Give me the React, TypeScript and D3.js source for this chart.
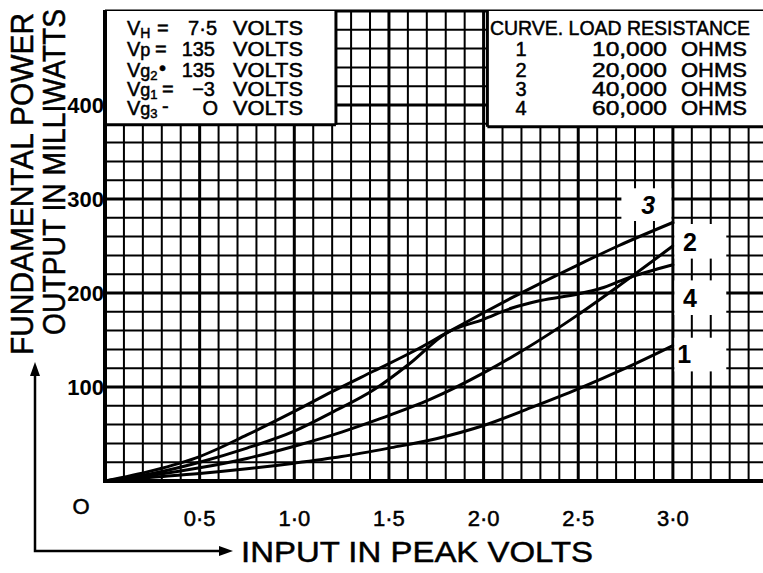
import React from "react";
import * as d3 from "d3";

// ---- data ----
const volts1 = [0, 0.25, 0.5, 0.75, 1.0, 1.25, 1.5, 1.75, 2.0, 2.25, 2.5, 2.75, 3.0];
const power1 = [0, 4, 8, 13, 19, 26, 35, 45, 59, 78, 98, 120, 144];

const volts2 = [0, 0.25, 0.5, 0.75, 1.0, 1.25, 1.45, 1.72, 2.0, 2.2, 2.5, 2.71, 3.0];
const power2 = [0, 6, 14, 24, 37, 52, 66, 87, 115, 138, 177, 207, 250];

const volts3 = [0, 0.25, 0.5, 0.75, 1.0, 1.2, 1.42, 1.63, 1.8, 2.0, 2.15, 2.5, 2.71, 3.0];
const power3 = [0, 11, 26, 49, 74, 95, 117, 138, 157, 179, 195, 230, 250, 275];

const volts4 = [0, 0.25, 0.5, 0.75, 1.0, 1.2, 1.42, 1.61, 1.8, 2.0, 2.15, 2.3, 2.5, 2.62, 2.75, 3.0];
const power4 = [0, 8, 20, 35, 53, 73, 97, 125, 157, 172, 184, 192, 199, 205, 215, 230];

const xTickValues = [0.5, 1.0, 1.5, 2.0, 2.5, 3.0];
const xTickLabels = ["0·5", "1·0", "1·5", "2·0", "2·5", "3·0"];
const yTickValues = [100, 200, 300, 400];
const yTickLabels = ["100", "200", "300", "400"];

const curveNumbers = ["1", "2", "3", "4"];
const loadResistances = ["10,000", "20,000", "40,000", "60,000"];

const xMaxV = 3.476;
const yMaxMW = 500;

const W = 763;
const H = 573;
const FONT = "'Liberation Sans', Arial, sans-serif";

export default function App() {
  const x = d3.scaleLinear().domain([0, xMaxV]).range([105, 763]);
  const y = d3.scaleLinear().domain([0, yMaxMW]).range([481, 11]);

  const vLines = d3.range(1, 35).map((i) => i / 10);
  const hLines = d3.range(1, 25).map((i) => i * 20);

  const line = d3
    .line<[number, number]>()
    .x((d) => x(d[0]))
    .y((d) => y(d[1]))
    .curve(d3.curveMonotoneX);

  const series = [
    { v: volts1, p: power1 },
    { v: volts2, p: power2 },
    { v: volts3, p: power3 },
    { v: volts4, p: power4 },
  ];

  // label boxes in data units: [v0, v1, p0, p1]
  const labelBoxes = [
    { t: "3", b: [2.72, 3.0, 275, 313], tx: 2.87, ty: 294, italic: true },
    { t: "2", b: [3.0, 3.29, 235, 275], tx: 3.09, ty: 254, italic: false },
    { t: "4", b: [3.0, 3.29, 175, 215], tx: 3.09, ty: 195, italic: false },
    { t: "1", b: [3.0, 3.29, 115, 154], tx: 3.06, ty: 135, italic: false },
  ];

  const leftBoxRight = x(1.22);
  const rightBoxLeft = x(2.02);
  const boxBottom = y(380) + 1;

  const rowBase = [35, 56, 77, 96, 115];
  const ink = { fill: "#000", stroke: "#000", strokeWidth: 0.5 };

  return (
    <svg
      width={W}
      height={H}
      viewBox={`0 0 ${W} ${H}`}
      style={{ position: "absolute", left: 0, top: 0, background: "#fff" }}
      fontFamily={FONT}
    >
      <rect x={0} y={0} width={W} height={H} fill="#fff" />

      {/* grid */}
      {vLines.map((v) => {
        const major = Math.abs(v * 2 - Math.round(v * 2)) < 1e-6;
        return (
          <line
            key={"v" + v}
            x1={x(v)}
            x2={x(v)}
            y1={y(0)}
            y2={y(yMaxMW)}
            stroke="#000"
            strokeWidth={major ? 3 : 2}
          />
        );
      })}
      {hLines.map((p) => {
        const major = p % 100 === 0;
        return (
          <line
            key={"h" + p}
            x1={x(0)}
            x2={W}
            y1={y(p)}
            y2={y(p)}
            stroke="#000"
            strokeWidth={major ? 3 : 2}
          />
        );
      })}
      {/* top border */}
      <line x1={x(0)} x2={W} y1={y(yMaxMW)} y2={y(yMaxMW)} stroke="#000" strokeWidth={3} />

      {/* left info box */}
      <rect x={x(0)} y={y(yMaxMW)} width={leftBoxRight - x(0)} height={boxBottom - y(yMaxMW)} fill="#fff" />
      <line x1={leftBoxRight} x2={leftBoxRight} y1={y(yMaxMW)} y2={boxBottom} stroke="#000" strokeWidth={3} />
      <line x1={x(0)} x2={leftBoxRight} y1={boxBottom} y2={boxBottom} stroke="#000" strokeWidth={3} />

      {/* right info box */}
      <rect x={rightBoxLeft} y={y(yMaxMW)} width={W - rightBoxLeft} height={boxBottom + 2 - y(yMaxMW)} fill="#fff" />
      <line x1={rightBoxLeft} x2={rightBoxLeft} y1={y(yMaxMW)} y2={boxBottom + 2} stroke="#000" strokeWidth={3} />
      <line x1={rightBoxLeft} x2={W} y1={boxBottom + 2} y2={boxBottom + 2} stroke="#000" strokeWidth={3} />

      {/* axes */}
      <line x1={x(0)} x2={x(0)} y1={y(yMaxMW) - 1} y2={y(0) + 2} stroke="#000" strokeWidth={4} />
      <line x1={x(0) - 2} x2={W} y1={y(0)} y2={y(0)} stroke="#000" strokeWidth={4} />

      {/* curves */}
      {series.map((s, i) => (
        <path
          key={"c" + i}
          d={line(s.v.map((v, j) => [v, s.p[j]] as [number, number])) || ""}
          fill="none"
          stroke="#000"
          strokeWidth={3}
          strokeLinejoin="round"
          strokeLinecap="round"
        />
      ))}

      {/* curve label boxes */}
      {labelBoxes.map((lb) => (
        <g key={"lb" + lb.t}>
          <rect
            x={x(lb.b[0]) + 1.5}
            y={y(lb.b[3]) + 1.5}
            width={x(lb.b[1]) - x(lb.b[0]) - 3}
            height={y(lb.b[2]) - y(lb.b[3]) - 3}
            fill="#fff"
          />
          <text
            x={x(lb.tx)}
            y={y(lb.ty)}
            dy="0.36em"
            textAnchor="middle"
            fontSize={25}
            fontWeight="bold"
            fontStyle={lb.italic ? "italic" : "normal"}
          >
            {lb.t}
          </text>
        </g>
      ))}

      {/* left box text */}
      <g fontSize={20} {...ink}>
        <text x={127} y={rowBase[0]}>
          V<tspan fontSize={14} dy={3}>H</tspan>
        </text>
        <text x={157} y={rowBase[0]}>=</text>
        <text x={217} y={rowBase[0]} textAnchor="end">7·5</text>

        <text x={127} y={rowBase[1]}>
          V<tspan fontSize={18}>p</tspan>
        </text>
        <text x={155} y={rowBase[1]}>=</text>
        <text x={215} y={rowBase[1]} textAnchor="end">135</text>

        <text x={127} y={rowBase[2]}>
          V<tspan fontSize={18}>g</tspan>
          <tspan fontSize={13} dy={3}>2</tspan>
        </text>
        <text x={159} y={rowBase[2] - 2}>•</text>
        <text x={215} y={rowBase[2]} textAnchor="end">135</text>

        <text x={127} y={rowBase[3]}>
          V<tspan fontSize={18}>g</tspan>
          <tspan fontSize={13} dy={3}>1</tspan>
        </text>
        <text x={162} y={rowBase[3]}>=</text>
        <text x={215} y={rowBase[3]} textAnchor="end">−3</text>

        <text x={127} y={rowBase[4]}>
          V<tspan fontSize={18}>g</tspan>
          <tspan fontSize={13} dy={3}>3</tspan>
        </text>
        <text x={162} y={rowBase[4] - 2}>-</text>
        <text x={218} y={rowBase[4]} textAnchor="end">O</text>

        {rowBase.map((b, i) => (
          <text key={"volts" + i} x={233} y={b} textLength={70} lengthAdjust="spacingAndGlyphs">
            VOLTS
          </text>
        ))}
      </g>

      {/* right box text */}
      <g fontSize={20} {...ink}>
        <text x={490} y={rowBase[0]} textLength={260} lengthAdjust="spacingAndGlyphs">
          CURVE. LOAD RESISTANCE
        </text>
        {curveNumbers.map((c, i) => (
          <text key={"cn" + c} x={521} y={rowBase[i + 1]} textAnchor="middle">
            {c}
          </text>
        ))}
        {loadResistances.map((r, i) => (
          <text key={"lr" + r} x={667} y={rowBase[i + 1]} textAnchor="end" textLength={75} lengthAdjust="spacingAndGlyphs">
            {r}
          </text>
        ))}
        {loadResistances.map((r, i) => (
          <text key={"oh" + r} x={681} y={rowBase[i + 1]} textLength={66} lengthAdjust="spacingAndGlyphs">
            OHMS
          </text>
        ))}
      </g>

      {/* y tick labels */}
      {yTickValues.map((v, i) => (
        <text
          key={"yt" + v}
          x={104}
          y={y(v)}
          dy="0.36em"
          textAnchor="end"
          fontSize={22}
          fontWeight="bold"
        >
          {yTickLabels[i]}
        </text>
      ))}
      <text x={81} y={506} dy="0.36em" textAnchor="middle" fontSize={22} {...ink}>
        O
      </text>

      {/* x tick labels */}
      {xTickValues.map((v, i) => (
        <text key={"xt" + v} x={x(v)} y={526} textAnchor="middle" fontSize={22} {...ink}>
          {xTickLabels[i]}
        </text>
      ))}

      {/* axis titles */}
      <text
        transform="translate(33,355) rotate(-90)"
        fontSize={31}
        textLength={342}
        lengthAdjust="spacingAndGlyphs"
        {...ink}
      >
        FUNDAMENTAL POWER
      </text>
      <text
        transform="translate(65,335) rotate(-90)"
        fontSize={31}
        textLength={326}
        lengthAdjust="spacingAndGlyphs"
        {...ink}
      >
        OUTPUT IN MILLIWATTS
      </text>
      <text x={241} y={562} fontSize={30} textLength={352} lengthAdjust="spacingAndGlyphs" {...ink}>
        INPUT IN PEAK VOLTS
      </text>

      {/* arrows */}
      <polyline points="35,372 35,551 222,551" fill="none" stroke="#000" strokeWidth={2.5} />
      <polygon points="35,362 30,376 40,376" fill="#000" />
      <polygon points="233,551 219,546 219,556" fill="#000" />
    </svg>
  );
}
